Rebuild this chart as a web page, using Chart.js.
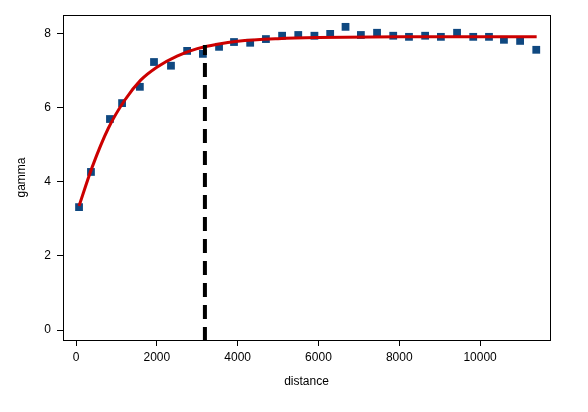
<!DOCTYPE html>
<html>
<head>
<script src="https://cdn.jsdelivr.net/npm/chart.js@4/dist/chart.umd.min.js"></script>
<style>body{margin:0;background:#fff}</style>
</head>
<body>
<div style="width:588px;height:412px"><canvas id="c"></canvas></div>
<script>
// semivariogram points
const distances = [75, 370, 840, 1140, 1580, 1930, 2350, 2750, 3140, 3540, 3910, 4310, 4700, 5100, 5500, 5900, 6290, 6670, 7050, 7450, 7850, 8240, 8640, 9030, 9430, 9830, 10220, 10590, 10990, 11390];
const gammas = [3.32, 4.27, 5.70, 6.13, 6.57, 7.24, 7.14, 7.54, 7.46, 7.65, 7.78, 7.76, 7.86, 7.95, 7.97, 7.95, 8.0, 8.19, 7.97, 8.03, 7.95, 7.92, 7.95, 7.92, 8.03, 7.92, 7.92, 7.84, 7.81, 7.57];
// fitted model curve
const fitX = [75, 400, 800, 1200, 1600, 2000, 2500, 3000, 3500, 4000, 5000, 6000, 8000, 11400];
const fitY = [3.35, 4.4, 5.45, 6.2, 6.75, 7.1, 7.4, 7.6, 7.72, 7.8, 7.87, 7.9, 7.92, 7.92];
// range marker
const rangeX = 3190;
const rangeTop = 7.7;
const xTicks = [0, 2000, 4000, 6000, 8000, 10000];
const yTicks = [0, 2, 4, 6, 8];

const font = { family: 'Liberation Sans, Arial', size: 12 };

const boxPlugin = {
  id: 'box',
  afterDraw(chart) {
    const a = chart.chartArea, ctx = chart.ctx;
    ctx.save();
    ctx.strokeStyle = '#000';
    ctx.lineWidth = 1;
    ctx.strokeRect(a.left + 0.5, a.top + 0.5, a.right - a.left, a.bottom - a.top);
    ctx.restore();
  }
};

new Chart(document.getElementById('c'), {
  type: 'scatter',
  data: {
    datasets: [
      {
        data: distances.map((d, i) => ({ x: d, y: gammas[i] })),
        pointStyle: 'rect', pointRadius: 5.5, backgroundColor: '#0f4880', borderWidth: 0, order: 2
      },
      {
        type: 'line',
        data: fitX.map((d, i) => ({ x: d, y: fitY[i] })),
        borderColor: '#cc0000', borderWidth: 3, pointRadius: 0, tension: 0.4, cubicInterpolationMode: 'monotone', order: 1
      },
      {
        type: 'line',
        data: [{ x: rangeX, y: -0.3 }, { x: rangeX, y: rangeTop }],
        borderColor: '#000', borderWidth: 4, borderDash: [14, 8], pointRadius: 0, order: 0
      }
    ]
  },
  options: {
    responsive: true, maintainAspectRatio: false, animation: false,
    layout: { padding: { top: 15, right: 38, left: 10, bottom: 19 } },
    plugins: { legend: { display: false }, tooltip: { enabled: false } },
    scales: {
      x: {
        type: 'linear', min: -322, max: 11730,
        afterBuildTicks: s => { s.ticks = xTicks.map(v => ({ value: v })); },
        afterFit: s => { s.height = 53; },
        grid: { drawOnChartArea: false, tickLength: 6, color: '#000' },
        border: { display: false },
        ticks: { color: '#000', font, padding: 4, callback: v => String(v) },
        title: { display: true, text: 'distance', color: '#000', font, padding: { top: 8 } }
      },
      y: {
        min: -0.27, max: 8.51,
        afterBuildTicks: s => { s.ticks = yTicks.map(v => ({ value: v })); },
        afterFit: s => { s.width = 53; },
        grid: { drawOnChartArea: false, tickLength: 6, color: '#000' },
        border: { display: false },
        ticks: { color: '#000', font, padding: 6, callback: v => String(v) },
        title: { display: true, text: 'gamma', color: '#000', font, padding: { bottom: 8 } }
      }
    }
  },
  plugins: [boxPlugin]
});
</script>
</body>
</html>
